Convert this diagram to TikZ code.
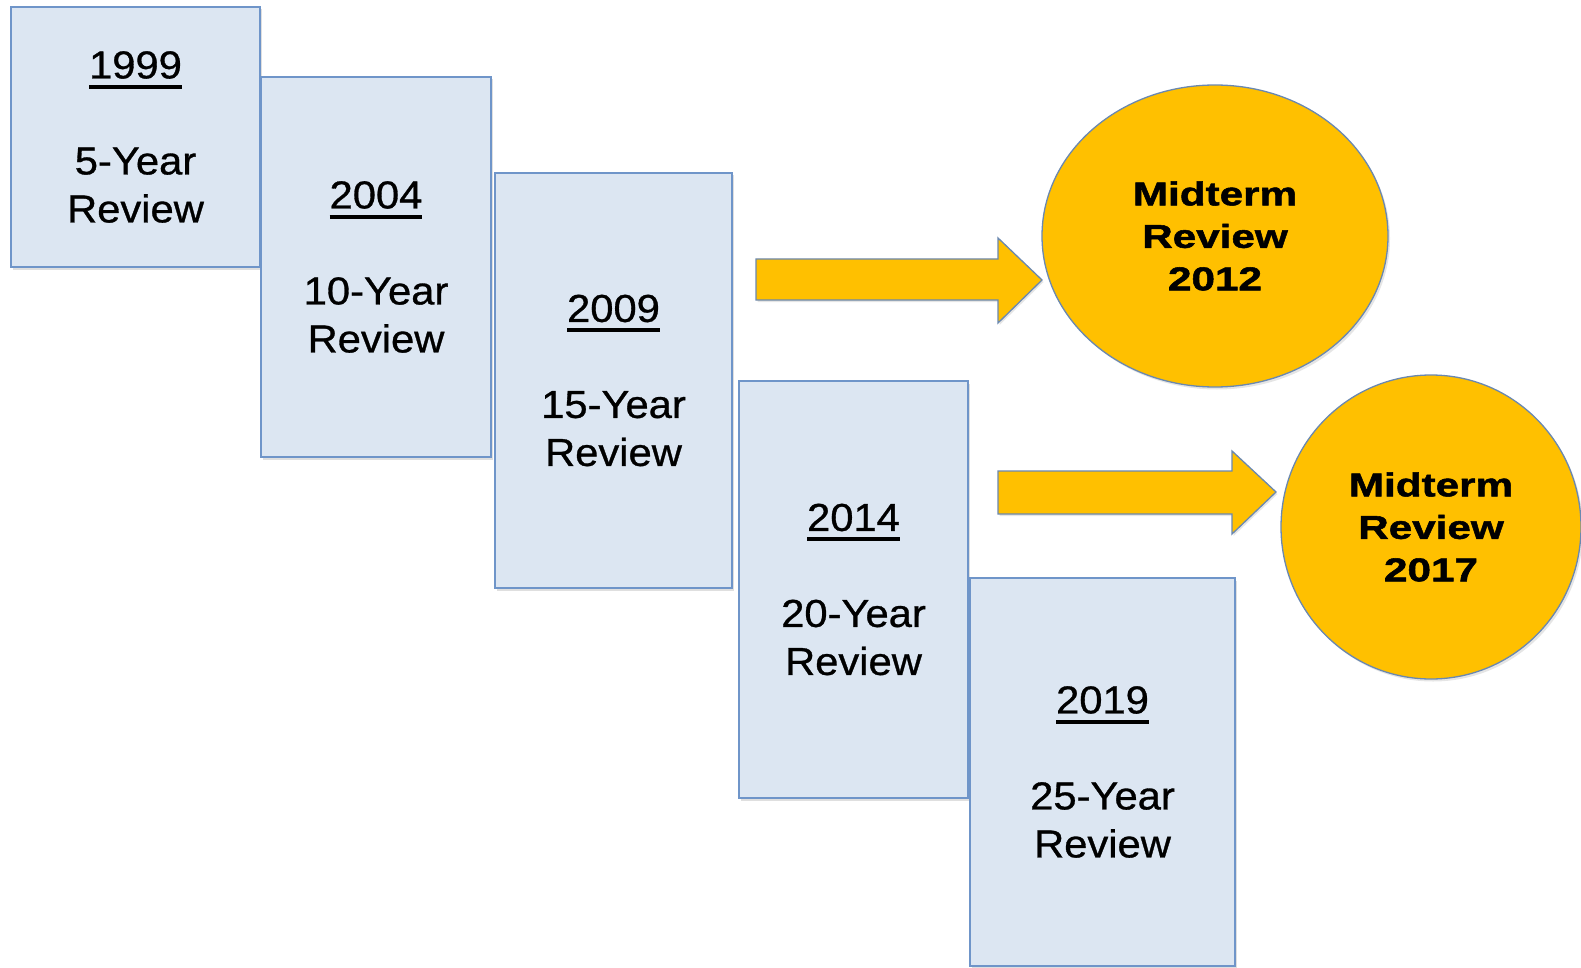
\documentclass[tikz,border=0pt]{standalone}
\usepackage{fontspec}
\setmainfont{Liberation Sans}[FakeStretch=1.07,FakeBold=0.8]
\newfontfamily\midfont{Liberation Sans}[FakeStretch=1.28,FakeBold=1.6]
\usetikzlibrary{shapes.geometric,shadows}
\definecolor{boxfill}{HTML}{DCE6F2}
\definecolor{boxline}{HTML}{6F95C9}
\definecolor{gold}{HTML}{FFC000}
\definecolor{goldline}{HTML}{6A88B0}
\newcommand\yearul[1]{\setbox0\hbox{#1}\leavevmode\rlap{\rule[-10.5pt]{\wd0}{4pt}}\box0}
\begin{document}
\begin{tikzpicture}[x=1pt,y=-1pt,
  reviewbox/.style={rectangle, draw=boxline, line width=2pt, fill=boxfill,
    align=center, inner sep=0pt, font=\fontsize{39}{48}\selectfont,
    drop shadow={shadow xshift=2pt, shadow yshift=-2.5pt, opacity=0.25}},
  midcircle/.style={ellipse, draw=goldline, line width=1.3pt, fill=gold,
    inner sep=0pt, align=center,
    font=\midfont\bfseries\fontsize{33}{42.5}\selectfont,
    drop shadow={shadow xshift=2pt, shadow yshift=-2.5pt, opacity=0.2}},
  blockarrow/.style={draw=goldline, line width=1.3pt, fill=gold, line join=miter,
    drop shadow={shadow xshift=1.5pt, shadow yshift=-2pt, opacity=0.2}}]
\useasboundingbox (0,0) rectangle (1581,968);
\fill[white] (0,0) rectangle (1581,968);

\node[reviewbox, minimum width=249pt, minimum height=260pt] (b1) at (135.5,137)
  {\yearul{1999}\\[48pt]5-Year\\Review};
\node[reviewbox, minimum width=230pt, minimum height=380pt] (b2) at (376,267)
  {\yearul{2004}\\[48pt]10-Year\\Review};
\node[reviewbox, minimum width=237pt, minimum height=415pt] (b3) at (613.5,380.5)
  {\yearul{2009}\\[48pt]15-Year\\Review};
\node[reviewbox, minimum width=229pt, minimum height=417pt] (b4) at (853.5,589.5)
  {\yearul{2014}\\[48pt]20-Year\\Review};
\node[reviewbox, minimum width=265pt, minimum height=388pt] (b5) at (1102.5,772)
  {\yearul{2019}\\[48pt]25-Year\\Review};

\draw[blockarrow] (756,259) -- (998,259) -- (998,238) -- (1042,280) -- (998,323)
  -- (998,300) -- (756,300) -- cycle;
\draw[blockarrow] (998,471) -- (1232,471) -- (1232,451) -- (1276,492) -- (1232,534)
  -- (1232,514) -- (998,514) -- cycle;

\node[midcircle, minimum width=346pt, minimum height=302pt] (m1) at (1215,236)
  {Midterm\\Review\\2012};
\node[midcircle, minimum width=300pt, minimum height=304pt] (m2) at (1431,527)
  {Midterm\\Review\\2017};
\end{tikzpicture}
\end{document}
